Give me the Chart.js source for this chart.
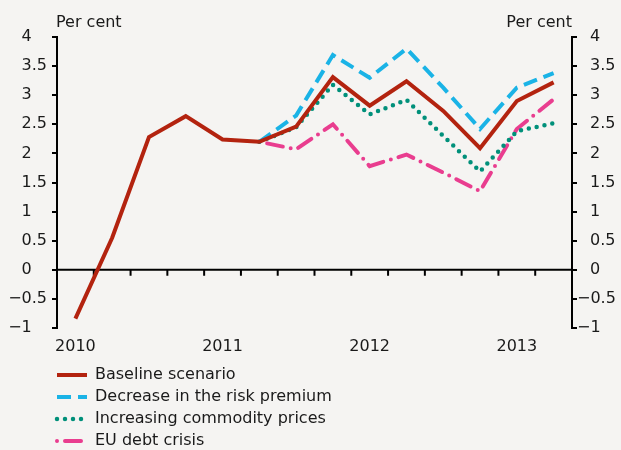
<!DOCTYPE html>
<html>
<head>
<meta charset="utf-8">
<title>Scenarios</title>
<script src="https://cdn.jsdelivr.net/npm/chart.js@4.4.1/dist/chart.umd.min.js"></script>
<style>
    html, body { margin: 0; padding: 0; background: #f5f4f2; overflow: hidden; }
    canvas { display: block; }
</style>
</head>
<body>
<canvas id="myChart" width="621" height="450"></canvas>
<script>
// data (per cent), quarterly 2010 Q1 - 2013 Q2
const quarters = ['2010 Q1', '2010 Q2', '2010 Q3', '2010 Q4', '2011 Q1', '2011 Q2', '2011 Q3', '2011 Q4',
    '2012 Q1', '2012 Q2', '2012 Q3', '2012 Q4', '2013 Q1', '2013 Q2'];
const baseline = [-0.84, 0.55, 2.28, 2.64, 2.24, 2.2, 2.46, 3.31, 2.82, 3.24, 2.73, 2.09, 2.9, 3.22];
const riskPremium = [null, null, null, null, null, 2.2, 2.65, 3.69, 3.3, 3.8, 3.13, 2.42, 3.13, 3.38];
const commodityPrices = [null, null, null, null, null, 2.2, 2.45, 3.18, 2.67, 2.92, 2.3, 1.69, 2.38, 2.52];
const debtCrisis = [null, null, null, null, null, 2.2, 2.07, 2.5, 1.78, 1.98, 1.67, 1.35, 2.42, 2.93];
const yTicks = [-1, -0.5, 0, 0.5, 1, 1.5, 2, 2.5, 3, 3.5, 4];
const unitLabel = 'Per cent';

const ink = '#1a1a1a';
Chart.defaults.font.family = "'DejaVu Sans', sans-serif";
Chart.defaults.font.size = 16;
Chart.defaults.color = ink;

// decimal aligned tick labels
function leftLabel(v) {
    let s = (v < 0 ? '\u2212' : '') + Math.abs(v);
    if (Number.isInteger(v)) s += '\u2008\u2007';
    return s;
}
function rightLabel(v) {
    return (v < 0 ? '\u2212' : '\u2002\u2008') + Math.abs(v);
}

// zero line with quarter ticks, and the unit labels on top
const extras = {
    id: 'extras',
    afterLayout(chart) {
        // line the legend samples up with the left axis
        chart.legend.left = chart.chartArea.left - chart.options.plugins.legend.labels.padding;
    },
    beforeDatasetsDraw(chart) {
        const c = chart.ctx, a = chart.chartArea, x = chart.scales.x;
        const y0 = chart.scales.y.getPixelForValue(0);
        c.save();
        c.strokeStyle = '#000';
        c.lineWidth = 2;
        c.beginPath();
        c.moveTo(a.left, y0);
        c.lineTo(a.right, y0);
        for (let i = 1; i < quarters.length; i++) {
            const xb = (x.getPixelForValue(i - 1) + x.getPixelForValue(i)) / 2;
            c.moveTo(xb, y0);
            c.lineTo(xb, y0 + 6);
        }
        c.stroke();
        c.restore();
    },
    afterDraw(chart) {
        const c = chart.ctx, a = chart.chartArea;
        c.save();
        c.fillStyle = ink;
        c.font = "16px 'DejaVu Sans', sans-serif";
        c.textBaseline = 'middle';
        c.textAlign = 'left';
        c.fillText(unitLabel, a.left - 1, 23);
        c.textAlign = 'right';
        c.fillText(unitLabel, a.right, 23);
        c.restore();
    }
};

const axisGrid = {
    drawOnChartArea: false,
    color: '#000',
    lineWidth: 2,
    tickLength: 5
};

const myChart = document.getElementById('myChart').getContext('2d');

let scenarioChart = new Chart(myChart, {
    type: 'line',
    data: {
        labels: quarters,
        datasets: [{
            label: 'Baseline scenario',
            data: baseline,
            borderColor: '#b3230f',
            backgroundColor: '#b3230f',
            borderWidth: 4
        }, {
            label: 'Decrease in the risk premium',
            data: riskPremium,
            borderColor: '#1ab3e6',
            backgroundColor: '#1ab3e6',
            borderWidth: 4,
            borderDash: [14, 7]
        }, {
            label: 'Increasing commodity prices',
            data: commodityPrices,
            borderColor: '#00907a',
            backgroundColor: '#00907a',
            borderWidth: 4.5,
            borderDash: [0, 8],
            borderCapStyle: 'round'
        }, {
            label: 'EU debt crisis',
            data: debtCrisis,
            borderColor: '#e93d8f',
            backgroundColor: '#e93d8f',
            borderWidth: 4,
            borderDash: [0, 8, 16, 8],
            borderCapStyle: 'round'
        }]
    },
    options: {
        responsive: false,
        animation: false,
        elements: {
            point: { radius: 0, pointStyle: 'line' },
            line: { tension: 0 }
        },
        layout: {
            padding: { top: 37, bottom: -9, left: 0, right: 0 }
        },
        scales: {
            x: {
                offset: true,
                grid: { display: false, drawTicks: false },
                border: { display: false },
                ticks: {
                    autoSkip: false,
                    maxRotation: 0,
                    padding: 9,
                    callback: (v, i) => quarters[i].endsWith('Q1') ? quarters[i].slice(0, 4) : ''
                },
                afterFit: (s) => { s.height = 33; }
            },
            y: {
                position: 'left',
                min: -1,
                max: 4,
                grid: axisGrid,
                border: { color: '#000', width: 2 },
                ticks: { padding: 5, callback: leftLabel },
                afterBuildTicks: (s) => { s.ticks = yTicks.map(v => ({ value: v })); },
                afterFit: (s) => { s.width = 57; }
            },
            y2: {
                position: 'right',
                min: -1,
                max: 4,
                grid: axisGrid,
                border: { color: '#000', width: 2 },
                ticks: { padding: 0, callback: rightLabel },
                afterBuildTicks: (s) => { s.ticks = yTicks.map(v => ({ value: v })); },
                afterFit: (s) => { s.width = 49; }
            }
        },
        plugins: {
            legend: {
                position: 'bottom',
                align: 'start',
                fullSize: false,
                labels: {
                    usePointStyle: true,
                    pointStyleWidth: 30,
                    padding: 6,
                    color: ink,
                    // take dash from the line, pad the text so each entry takes its own row
                    generateLabels: (chart) => Chart.defaults.plugins.legend.labels.generateLabels(chart)
                        .map(item => {
                            const ds = chart.data.datasets[item.datasetIndex];
                            return {
                                ...item,
                                lineDash: ds.borderDash || [],
                                lineCap: ds.borderCapStyle || 'butt',
                                text: item.text + ' '.repeat(40)
                            };
                        })
                }
            },
            tooltip: { enabled: false }
        }
    },
    plugins: [extras]
});
</script>
</body>
</html>
